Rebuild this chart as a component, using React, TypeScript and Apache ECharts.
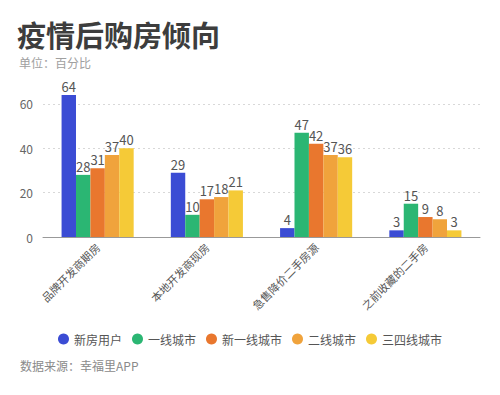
import React, { useEffect, useRef } from "react";
import * as echarts from "echarts";

const categories = ["品牌开发商期房", "本地开发商现房", "急售降价二手房源", "之前收藏的二手房"];
const seriesNames = ["新房用户", "一线城市", "新一线城市", "二线城市", "三四线城市"];
const newHomeUsers = [64, 29, 4, 3];
const tier1 = [28, 10, 47, 15];
const newTier1 = [31, 17, 42, 9];
const tier2 = [37, 18, 37, 8];
const tier34 = [40, 21, 36, 3];
const colors = ["#3b4cd4", "#2bb673", "#e9772e", "#f0a33c", "#f5ca37"];

const FONT = "'Noto Sans CJK SC', 'Noto Sans', sans-serif";

export default function App() {
  const ref = useRef<HTMLDivElement>(null);
  useEffect(() => {
    if (!ref.current) return;
    const chart = echarts.init(ref.current, undefined, { renderer: "svg" });
    const values = [newHomeUsers, tier1, newTier1, tier2, tier34];
    chart.setOption({
      animation: false,
      backgroundColor: "#ffffff",
      textStyle: { fontFamily: FONT },
      legend: {
        bottom: 45,
        left: "center",
        icon: "circle",
        itemWidth: 11,
        itemHeight: 11,
        itemGap: 10,
        data: seriesNames,
        textStyle: { fontSize: 12, color: "#555", fontFamily: FONT },
      },
      grid: { left: 43, right: 20, top: 95, bottom: 158 },
      xAxis: {
        type: "category",
        data: categories,
        axisLine: { lineStyle: { color: "#999" } },
        axisTick: { alignWithLabel: true, length: 4, lineStyle: { color: "#999" } },
        axisLabel: { rotate: 45, fontSize: 11, color: "#555", margin: 8, fontFamily: FONT },
      },
      yAxis: {
        type: "value",
        min: 0,
        max: 64,
        interval: 20,
        axisLine: { show: false },
        axisTick: { show: false },
        axisLabel: { fontSize: 12, color: "#666", margin: 10, showMaxLabel: false, fontFamily: FONT },
        splitLine: { showMaxLine: false, lineStyle: { color: "#d8d8d8", type: [2, 3] } },
      },
      series: seriesNames.map((name, i) => ({
        name,
        type: "bar",
        data: values[i],
        barGap: "0%",
        barCategoryGap: "34%",
        itemStyle: { color: colors[i] },
        label: { show: true, position: "top", distance: 2, fontSize: 13, color: "#555", fontFamily: FONT },
      })),
      graphic: [
        {
          type: "text",
          x: 17,
          y: 34,
          style: {
            text: "疫情后购房倾向",
            fontSize: 29,
            fontWeight: "bold",
            fill: "#3d3d3d",
            fontFamily: FONT,
            verticalAlign: "middle",
          },
        },
        {
          type: "text",
          x: 19,
          y: 62,
          style: {
            text: "单位：百分比",
            fontSize: 12,
            fill: "#a0a0a0",
            fontFamily: FONT,
            verticalAlign: "middle",
          },
        },
        {
          type: "text",
          x: 20,
          y: 365,
          style: {
            text: "数据来源：幸福里APP",
            fontSize: 12,
            fill: "#8a8a8a",
            fontFamily: FONT,
            verticalAlign: "middle",
          },
        },
      ],
    });
    return () => chart.dispose();
  }, []);
  return <div ref={ref} style={{ width: 500, height: 395, position: "absolute", left: 0, top: 0 }} />;
}
